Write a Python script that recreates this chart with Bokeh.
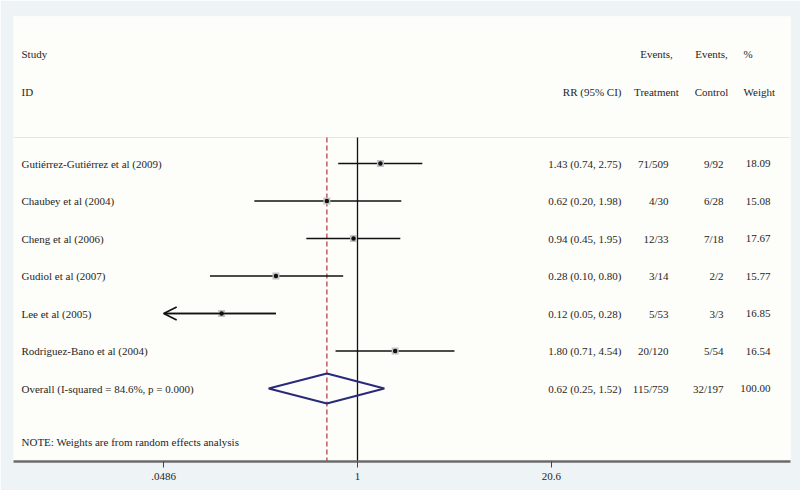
import math
from bokeh.plotting import figure
from bokeh.models import Range1d, FixedTicker, ColumnDataSource, Arrow, OpenHead, CustomJSTickFormatter
from bokeh.core.properties import value
from bokeh.embed import file_html
from bokeh.resources import INLINE

# ---------------- data ----------------
studies = ["Gutiérrez-Gutiérrez et al (2009)", "Chaubey et al (2004)", "Cheng et al (2006)",
           "Gudiol et al (2007)", "Lee et al (2005)", "Rodriguez-Bano et al (2004)"]
rr = [1.43, 0.62, 0.94, 0.28, 0.12, 1.80]
rr_lo = [0.74, 0.20, 0.45, 0.10, 0.05, 0.71]
rr_hi = [2.75, 1.98, 1.95, 0.80, 0.28, 4.54]
events_treat = ["71/509", "4/30", "12/33", "3/14", "5/53", "20/120"]
events_ctrl = ["9/92", "6/28", "7/18", "2/2", "3/3", "5/54"]
weights = [18.09, 15.08, 17.67, 15.77, 16.85, 16.54]
arrow_left = [False, False, False, False, True, False]

overall_label = "Overall (I-squared = 84.6%, p = 0.000)"
overall_rr = 0.62
overall_lo = 0.25
overall_hi = 1.52
overall_treat = "115/759"
overall_ctrl = "32/197"
overall_weight = 100.00

tick_values = [0.0486, 1, 20.6]
null_value = 1
note_text = "NOTE: Weights are from random effects analysis"

# ---------------- layout helpers (page pixels -> data) ----------------
PX_PER_LN = 64.09
X_ONE_PX = 357.0
ROW_PX = 37.5
ROW1_PX = 163.0


def px_to_x(px):
    return math.exp((px - X_ONE_PX) / PX_PER_LN)


def px_to_row(py):
    return 1 + (py - ROW1_PX) / ROW_PX


FONT = value("Liberation Serif")
FS = "11px"
TXT = "#262626"

p = figure(width=800, height=490, x_axis_type="log",
           x_range=Range1d(px_to_x(13), px_to_x(790)),
           y_range=Range1d(px_to_row(461), px_to_row(16)),
           output_backend="svg", toolbar_location=None,
           min_border_left=13, min_border_right=10, min_border_top=16, min_border_bottom=29,
           border_fill_color="#eef3f5", background_fill_color="#fdfdf9",
           outline_line_color=None)
p.xgrid.visible = False
p.ygrid.visible = False
p.yaxis.visible = False

ax = p.xaxis[0]
ax.ticker = FixedTicker(ticks=tick_values)
ax.formatter = CustomJSTickFormatter(code="return tick < 1 ? String(tick).replace(/^0/, '') : String(tick);")
ax.axis_line_color = "#6b6b6b"
ax.axis_line_width = 2.5
ax.major_tick_line_color = "#444444"
ax.major_tick_line_width = 1
ax.major_tick_out = 6
ax.major_tick_in = 0
ax.minor_tick_line_color = None
ax.major_label_standoff = 5
ax.major_label_text_font = "Liberation Serif"
ax.major_label_text_font_size = "11px"
ax.major_label_text_color = TXT

n = len(studies)
rows = list(range(1, n + 1))
overall_row = n + 1
top_row = px_to_row(137)
bottom_row = px_to_row(461)

# header separator
p.segment(x0=[px_to_x(13)], x1=[px_to_x(790)], y0=[top_row], y1=[top_row],
          line_color="#e6e6e4", line_width=1)

# null line and overall line
p.segment(x0=[null_value], x1=[null_value], y0=[top_row], y1=[bottom_row + 0.15],
          line_color="#111111", line_width=1.3)
p.segment(x0=[overall_rr], x1=[overall_rr], y0=[top_row], y1=[bottom_row],
          line_color="#c25a64", line_width=1.5, line_dash="5 3")

# CI lines
axis_min = tick_values[0]
ci_x0 = [axis_min if a else lo for lo, a in zip(rr_lo, arrow_left)]
src = ColumnDataSource(dict(y=rows, rr=rr, x0=ci_x0, x1=rr_hi))
p.segment(x0="x0", x1="x1", y0="y", y1="y", source=src, line_color="#111111", line_width=1.6)

# arrows for clipped CIs
arr_src = ColumnDataSource(dict(
    xs=[h for h, a in zip(rr_hi, arrow_left) if a],
    xe=[axis_min for a in arrow_left if a],
    y=[r for r, a in zip(rows, arrow_left) if a]))
p.add_layout(Arrow(end=OpenHead(size=13, line_width=1.6, line_color="#111111"),
                   x_start="xs", y_start="y", x_end="xe", y_end="y",
                   line_color="#111111", line_width=1.6, source=arr_src))

# weight boxes and point estimates
p.scatter(x="rr", y="y", source=src, marker="square", size=7, fill_color="#c4c4c4",
          line_color=None)
p.scatter(x="rr", y="y", source=src, marker="circle", size=4.5, fill_color="#111111",
          line_color=None)

# overall diamond
dh = 0.4
p.patch(x=[overall_lo, overall_rr, overall_hi, overall_rr],
        y=[overall_row, overall_row - dh, overall_row, overall_row + dh],
        fill_color=None, line_color="#2a2a7c", line_width=2)


def txt(xs, ys, texts, align):
    s = ColumnDataSource(dict(x=xs, y=ys, t=texts))
    p.text(x="x", y="y", text="t", source=s, text_font=FONT, text_font_size=FS,
           text_color=TXT, text_baseline="middle", text_align=align)


all_rows = rows + [overall_row]
rr_txt = ["%.2f (%.2f, %.2f)" % (a, b, c) for a, b, c in zip(rr, rr_lo, rr_hi)]
rr_txt.append("%.2f (%.2f, %.2f)" % (overall_rr, overall_lo, overall_hi))
w_txt = ["%.2f" % w for w in weights] + ["%.2f" % overall_weight]

h1 = px_to_row(53)
h2 = px_to_row(91)

# headers
txt([px_to_x(21)] * 2, [h1, h2], ["Study", "ID"], "left")
txt([px_to_x(621)], [h2], ["RR (95% CI)"], "right")
txt([px_to_x(656)] * 2, [h1, h2], ["Events,", "Treatment"], "center")
txt([px_to_x(711)] * 2, [h1, h2], ["Events,", "Control"], "center")
txt([px_to_x(743)] * 2, [h1, h2], ["%", "Weight"], "left")

# body
txt([px_to_x(21)] * (n + 1), all_rows, studies + [overall_label], "left")
txt([px_to_x(621)] * (n + 1), all_rows, rr_txt, "right")
txt([px_to_x(668)] * (n + 1), all_rows, events_treat + [overall_treat], "right")
txt([px_to_x(723)] * (n + 1), all_rows, events_ctrl + [overall_ctrl], "right")
txt([px_to_x(770)] * (n + 1), all_rows, w_txt, "right")

# note
txt([px_to_x(21)], [px_to_row(441)], [note_text], "left")

open("out.html", "w").write(file_html(p, INLINE))
